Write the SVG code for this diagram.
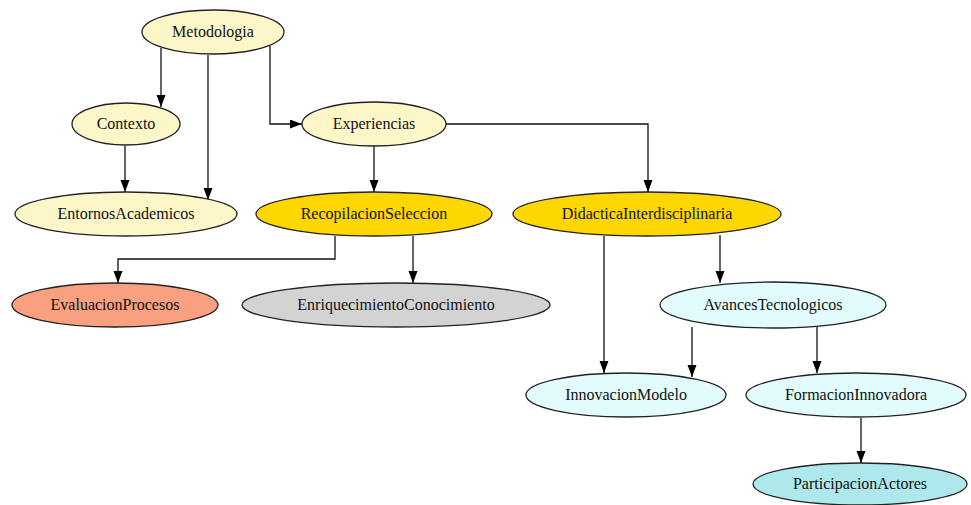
<svg xmlns="http://www.w3.org/2000/svg" width="971" height="505" viewBox="0 0 971 505">
<style>
.n ellipse{stroke:#222;stroke-width:1.3}
.n text{font-family:'Liberation Serif','DejaVu Serif',serif;font-size:16px;fill:#111;text-anchor:middle}
.e path{fill:none;stroke:#111;stroke-width:1.3;marker-end:url(#ah)}
.ly{fill:#FCF6C9}.gd{fill:#FFD700}.sa{fill:#F8A07F}.gr{fill:#D3D3D3}.lc{fill:#E2FBFC}.pt{fill:#AEE8EC}
</style>
<defs>
<marker id="ah" markerUnits="userSpaceOnUse" markerWidth="12" markerHeight="10" refX="12" refY="4.5" orient="auto">
<path d="M0,0 L12,4.5 L0,9 z" fill="#000"/>
</marker>
</defs>
<rect width="971" height="505" fill="#fff"/>
<g class="e" id="edges">
<path d="M161,48 V107"/>
<path d="M208,55 V200"/>
<path d="M270,46 V124 H302"/>
<path d="M125,146 V192"/>
<path d="M374,146 V192"/>
<path d="M446,124 H648 V192"/>
<path d="M335,236 V259 H118 V283"/>
<path d="M413,236 V283"/>
<path d="M604,236 V373"/>
<path d="M720,235 V283"/>
<path d="M692,327 V377"/>
<path d="M817,327 V373"/>
<path d="M861,418 V463"/>
</g>
<g class="n" id="Metodologia" font-family="Liberation Serif, serif"><ellipse class="ly" cx="213" cy="32" rx="71" ry="22"/><text x="213" y="37">Metodologia</text></g>
<g class="n" id="Contexto"><ellipse class="ly" cx="126" cy="124" rx="54" ry="21"/><text x="126" y="129">Contexto</text></g>
<g class="n" id="Experiencias"><ellipse class="ly" cx="374" cy="124" rx="72" ry="22"/><text x="374" y="129">Experiencias</text></g>
<g class="n" id="EntornosAcademicos"><ellipse class="ly" cx="126" cy="214" rx="111" ry="22"/><text x="126" y="219">EntornosAcademicos</text></g>
<g class="n" id="RecopilacionSeleccion"><ellipse class="gd" cx="374" cy="214" rx="118" ry="22"/><text x="374" y="219">RecopilacionSeleccion</text></g>
<g class="n" id="DidacticaInterdisciplinaria"><ellipse class="gd" cx="647" cy="214" rx="134" ry="22"/><text x="647" y="219">DidacticaInterdisciplinaria</text></g>
<g class="n" id="EvaluacionProcesos"><ellipse class="sa" cx="115" cy="305" rx="103" ry="22"/><text x="115" y="310">EvaluacionProcesos</text></g>
<g class="n" id="EnriquecimientoConocimiento"><ellipse class="gr" cx="396" cy="305" rx="154" ry="22"/><text x="396" y="310">EnriquecimientoConocimiento</text></g>
<g class="n" id="AvancesTecnologicos"><ellipse class="lc" cx="773" cy="305" rx="113" ry="23"/><text x="773" y="310">AvancesTecnologicos</text></g>
<g class="n" id="InnovacionModelo"><ellipse class="lc" cx="626" cy="395" rx="100" ry="22"/><text x="626" y="400">InnovacionModelo</text></g>
<g class="n" id="FormacionInnovadora"><ellipse class="lc" cx="856" cy="395" rx="110" ry="22"/><text x="856" y="400">FormacionInnovadora</text></g>
<g class="n" id="ParticipacionActores"><ellipse class="pt" cx="860" cy="484" rx="107" ry="21"/><text x="860" y="489">ParticipacionActores</text></g>
</svg>
